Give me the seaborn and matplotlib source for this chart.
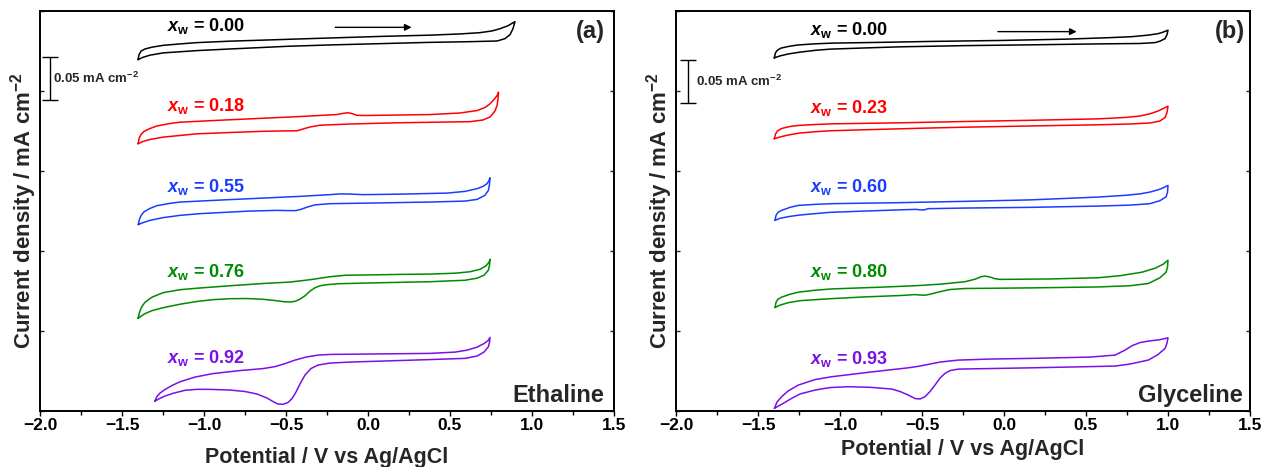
import numpy as np
import pandas as pd
import matplotlib
matplotlib.use("Agg")
import matplotlib.pyplot as plt
from matplotlib.ticker import MultipleLocator
import seaborn as sns

# ---------------- data: potential (V vs Ag/AgCl) and offset current density (mA cm^-2) ----------------
# Ethaline, panel (a)
ETH_000_FWD_V = [-1.402, -1.396, -1.384, -1.360, -1.317, -1.250, -1.146, -1.043, -0.841, -0.640, -0.415, -0.232,
                 0.073, 0.378, 0.561, 0.683, 0.756, 0.805, 0.854, 0.896]
ETH_000_FWD_J = [0.4093, 0.4151, 0.4192, 0.4217, 0.4238, 0.4259, 0.4276, 0.4291, 0.4308, 0.4320, 0.4334, 0.4345,
                 0.4363, 0.4378, 0.4392, 0.4407, 0.4427, 0.4453, 0.4488, 0.4535]
ETH_000_REV_V = [0.896, 0.884, 0.866, 0.835, 0.787, 0.622, 0.378, 0.073, -0.232, -0.494, -0.659, -0.841, -1.043,
                 -1.250, -1.329, -1.372, -1.402]
ETH_000_REV_J = [0.4535, 0.4453, 0.4384, 0.4337, 0.4310, 0.4302, 0.4294, 0.4279, 0.4264, 0.4248, 0.4233, 0.4217,
                 0.4198, 0.4171, 0.4145, 0.4120, 0.4093]

ETH_018_FWD_V = [-1.402, -1.396, -1.384, -1.366, -1.329, -1.287, -1.207, -1.146, -0.902, -0.640, -0.415, -0.191,
                 -0.152, -0.122, -0.098, -0.067, -0.018, 0.378, 0.561, 0.665, 0.713, 0.744, 0.768, 0.787, 0.796]
ETH_018_FWD_J = [0.3113, 0.3174, 0.3221, 0.3256, 0.3291, 0.3320, 0.3349, 0.3364, 0.3387, 0.3410, 0.3430, 0.3453,
                 0.3467, 0.3474, 0.3465, 0.3444, 0.3442, 0.3453, 0.3471, 0.3500, 0.3535, 0.3578, 0.3628, 0.3674, 0.3713]
ETH_018_REV_V = [0.796, 0.793, 0.787, 0.774, 0.744, 0.701, 0.622, 0.378, 0.177, -0.110, -0.293, -0.354, -0.396,
                 -0.433, -0.506, -0.640, -0.841, -1.043, -1.250, -1.329, -1.372, -1.402]
ETH_018_REV_J = [0.3713, 0.3640, 0.3558, 0.3494, 0.3424, 0.3390, 0.3370, 0.3363, 0.3357, 0.3343, 0.3329, 0.3308,
                 0.3285, 0.3264, 0.3263, 0.3258, 0.3244, 0.3229, 0.3190, 0.3163, 0.3140, 0.3113]

ETH_055_FWD_V = [-1.401, -1.393, -1.381, -1.366, -1.329, -1.287, -1.207, -1.146, -0.902, -0.640, -0.415, -0.232,
                 -0.171, -0.110, -0.030, 0.195, 0.482, 0.591, 0.665, 0.701, 0.726, 0.738, 0.744]
ETH_055_FWD_J = [0.2171, 0.2238, 0.2285, 0.2320, 0.2360, 0.2392, 0.2419, 0.2434, 0.2457, 0.2480, 0.2500, 0.2520,
                 0.2529, 0.2527, 0.2520, 0.2526, 0.2538, 0.2558, 0.2590, 0.2616, 0.2648, 0.2686, 0.2717]
ETH_055_REV_V = [0.744, 0.741, 0.734, 0.713, 0.665, 0.591, 0.378, 0.073, -0.232, -0.323, -0.366, -0.409, -0.439,
                 -0.506, -0.557, -0.720, -0.841, -1.024, -1.146, -1.250, -1.329, -1.372, -1.401]
ETH_055_REV_J = [0.2717, 0.2640, 0.2570, 0.2512, 0.2465, 0.2445, 0.2434, 0.2424, 0.2415, 0.2401, 0.2378, 0.2349,
                 0.2334, 0.2335, 0.2337, 0.2329, 0.2317, 0.2299, 0.2279, 0.2252, 0.2221, 0.2194, 0.2171]

ETH_076_FWD_V = [-1.402, -1.393, -1.381, -1.360, -1.317, -1.250, -1.146, -1.043, -0.841, -0.640, -0.476, -0.354,
                 -0.232, -0.140, -0.030, 0.195, 0.378, 0.530, 0.622, 0.683, 0.720, 0.738, 0.744]
ETH_076_FWD_J = [0.1081, 0.1151, 0.1209, 0.1267, 0.1326, 0.1378, 0.1413, 0.1430, 0.1459, 0.1485, 0.1502, 0.1529,
                 0.1564, 0.1581, 0.1584, 0.1591, 0.1595, 0.1605, 0.1622, 0.1651, 0.1692, 0.1733, 0.1767]
ETH_076_REV_V = [0.744, 0.741, 0.734, 0.707, 0.665, 0.591, 0.378, 0.073, -0.171, -0.244, -0.293, -0.323, -0.354,
                 -0.384, -0.415, -0.445, -0.476, -0.512, -0.567, -0.646, -0.740, -0.841, -0.945, -1.043, -1.146,
                 -1.250, -1.317, -1.360, -1.402]
ETH_076_REV_J = [0.1767, 0.1698, 0.1640, 0.1581, 0.1547, 0.1523, 0.1506, 0.1494, 0.1483, 0.1473, 0.1459, 0.1436,
                 0.1395, 0.1343, 0.1302, 0.1277, 0.1270, 0.1273, 0.1287, 0.1302, 0.1310, 0.1308, 0.1297, 0.1276,
                 0.1244, 0.1203, 0.1169, 0.1134, 0.1081]

ETH_092_FWD_V = [-1.299, -1.287, -1.268, -1.238, -1.195, -1.146, -1.055, -0.945, -0.780, -0.640, -0.567, -0.506,
                 -0.445, -0.378, -0.305, -0.232, 0.073, 0.378, 0.530, 0.604, 0.665, 0.707, 0.732, 0.744]
ETH_092_FWD_J = [0.0116, 0.0169, 0.0209, 0.0250, 0.0297, 0.0341, 0.0395, 0.0436, 0.0471, 0.0494, 0.0517, 0.0552,
                 0.0593, 0.0628, 0.0651, 0.0659, 0.0665, 0.0671, 0.0686, 0.0709, 0.0744, 0.0785, 0.0820, 0.0857]
ETH_092_REV_V = [0.744, 0.741, 0.734, 0.707, 0.665, 0.591, 0.378, 0.177, -0.110, -0.232, -0.305, -0.348, -0.384,
                 -0.415, -0.439, -0.463, -0.488, -0.518, -0.549, -0.579, -0.616, -0.677, -0.750, -0.841, -0.963,
                 -1.045, -1.116, -1.189, -1.238, -1.268, -1.299]
ETH_092_REV_J = [0.0857, 0.0802, 0.0748, 0.0686, 0.0640, 0.0613, 0.0599, 0.0587, 0.0570, 0.0558, 0.0535, 0.0494,
                 0.0419, 0.0314, 0.0221, 0.0145, 0.0099, 0.0078, 0.0081, 0.0110, 0.0151, 0.0198, 0.0227, 0.0244,
                 0.0252, 0.0252, 0.0241, 0.0206, 0.0174, 0.0148, 0.0116]

# Glyceline, panel (b)
GLY_000_FWD_V = [-1.401, -1.393, -1.381, -1.360, -1.305, -1.254, -1.152, -1.051, -0.756, -0.441, -0.024, 0.372,
                 0.646, 0.779, 0.878, 0.939, 0.970, 1.000]
GLY_000_FWD_J = [0.4113, 0.4174, 0.4203, 0.4227, 0.4250, 0.4264, 0.4277, 0.4285, 0.4294, 0.4305, 0.4316, 0.4331,
                 0.4349, 0.4360, 0.4378, 0.4395, 0.4413, 0.4436]
GLY_000_REV_V = [1.000, 0.994, 0.982, 0.951, 0.921, 0.829, 0.573, 0.159, -0.238, -0.634, -0.848, -1.061, -1.152,
                 -1.244, -1.315, -1.366, -1.401]
GLY_000_REV_J = [0.4436, 0.4384, 0.4337, 0.4308, 0.4291, 0.4281, 0.4276, 0.4265, 0.4256, 0.4242, 0.4229, 0.4215,
                 0.4201, 0.4180, 0.4159, 0.4136, 0.4113]

GLY_023_FWD_V = [-1.401, -1.393, -1.381, -1.356, -1.305, -1.254, -1.152, -1.051, -0.634, -0.238, 0.159, 0.575,
                 0.738, 0.829, 0.890, 0.939, 0.970, 1.000]
GLY_023_FWD_J = [0.3171, 0.3227, 0.3262, 0.3291, 0.3314, 0.3326, 0.3337, 0.3345, 0.3357, 0.3372, 0.3386, 0.3403,
                 0.3419, 0.3436, 0.3462, 0.3494, 0.3523, 0.3550]
GLY_023_REV_V = [1.000, 0.994, 0.982, 0.951, 0.890, 0.768, 0.573, 0.159, -0.238, -0.502, -0.848, -1.061, -1.152,
                 -1.244, -1.315, -1.366, -1.401]
GLY_023_REV_J = [0.3550, 0.3477, 0.3419, 0.3378, 0.3355, 0.3343, 0.3334, 0.3320, 0.3306, 0.3294, 0.3276, 0.3264,
                 0.3253, 0.3238, 0.3215, 0.3192, 0.3171]

GLY_060_FWD_V = [-1.396, -1.390, -1.378, -1.356, -1.305, -1.254, -1.152, -1.051, -0.634, -0.238, 0.159, 0.575,
                 0.738, 0.829, 0.890, 0.939, 0.970, 1.000]
GLY_060_FWD_J = [0.2221, 0.2279, 0.2314, 0.2337, 0.2372, 0.2395, 0.2407, 0.2415, 0.2427, 0.2442, 0.2459, 0.2492,
                 0.2512, 0.2529, 0.2550, 0.2576, 0.2599, 0.2628]
GLY_060_REV_V = [1.000, 0.997, 0.988, 0.951, 0.890, 0.768, 0.573, 0.159, -0.238, -0.421, -0.462, -0.488, -0.512,
                 -0.537, -0.634, -0.848, -1.061, -1.152, -1.244, -1.315, -1.366, -1.396]
GLY_060_REV_J = [0.2628, 0.2547, 0.2494, 0.2450, 0.2415, 0.2398, 0.2387, 0.2372, 0.2364, 0.2358, 0.2357, 0.2342,
                 0.2343, 0.2349, 0.2343, 0.2329, 0.2314, 0.2299, 0.2283, 0.2264, 0.2244, 0.2221]

GLY_080_FWD_V = [-1.396, -1.390, -1.378, -1.356, -1.305, -1.254, -1.152, -1.051, -0.756, -0.543, -0.390, -0.238,
                 -0.177, -0.140, -0.116, -0.085, -0.055, -0.024, 0.280, 0.573, 0.707, 0.840, 0.921, 0.970, 1.000]
GLY_080_FWD_J = [0.1206, 0.1267, 0.1302, 0.1326, 0.1360, 0.1384, 0.1407, 0.1422, 0.1442, 0.1459, 0.1477, 0.1506,
                 0.1535, 0.1564, 0.1572, 0.1560, 0.1541, 0.1533, 0.1538, 0.1552, 0.1576, 0.1616, 0.1663, 0.1709, 0.1756]
GLY_080_REV_V = [1.000, 0.997, 0.988, 0.951, 0.880, 0.768, 0.573, 0.159, -0.238, -0.329, -0.390, -0.451, -0.482,
                 -0.512, -0.543, -0.634, -0.848, -1.061, -1.244, -1.315, -1.366, -1.396]
GLY_080_REV_J = [0.1756, 0.1674, 0.1616, 0.1552, 0.1485, 0.1459, 0.1445, 0.1434, 0.1427, 0.1415, 0.1390, 0.1360,
                 0.1349, 0.1351, 0.1356, 0.1345, 0.1329, 0.1308, 0.1285, 0.1262, 0.1233, 0.1206]

GLY_093_FWD_V = [-1.400, -1.384, -1.356, -1.317, -1.254, -1.152, -1.051, -0.817, -0.584, -0.524, -0.482, -0.390,
                 -0.279, -0.085, 0.169, 0.524, 0.677, 0.738, 0.779, 0.829, 0.880, 0.951, 1.000]
GLY_093_FWD_J = [0.0031, 0.0105, 0.0166, 0.0233, 0.0302, 0.0366, 0.0399, 0.0453, 0.0503, 0.0520, 0.0535, 0.0570,
                 0.0593, 0.0605, 0.0613, 0.0628, 0.0651, 0.0709, 0.0759, 0.0797, 0.0814, 0.0831, 0.0852]
GLY_093_REV_V = [1.000, 0.994, 0.982, 0.939, 0.880, 0.768, 0.677, 0.169, -0.279, -0.329, -0.360, -0.390, -0.421,
                 -0.451, -0.482, -0.512, -0.543, -0.584, -0.634, -0.685, -0.817, -0.949, -1.061, -1.152, -1.244,
                 -1.294, -1.348, -1.400]
GLY_093_REV_J = [0.0852, 0.0791, 0.0729, 0.0657, 0.0593, 0.0547, 0.0523, 0.0503, 0.0488, 0.0471, 0.0438, 0.0384,
                 0.0302, 0.0227, 0.0166, 0.0140, 0.0145, 0.0186, 0.0227, 0.0256, 0.0276, 0.0283, 0.0273, 0.0244,
                 0.0198, 0.0148, 0.0087, 0.0031]

ETH_KEYS = ["000", "018", "055", "076", "092"]
GLY_KEYS = ["000", "023", "060", "080", "093"]
ETH_LABELS = ["0.00", "0.18", "0.55", "0.76", "0.92"]
GLY_LABELS = ["0.00", "0.23", "0.60", "0.80", "0.93"]
ETH_LABEL_J = [0.4422, 0.3492, 0.2550, 0.1562, 0.0555]
GLY_LABEL_J = [0.4384, 0.3473, 0.2550, 0.1562, 0.0547]
COLORS = ["#000000", "#ff0000", "#1a3cff", "#008a00", "#7a10e6"]

X_TICKS = [-2.0, -1.5, -1.0, -0.5, 0.0, 0.5, 1.0, 1.5]
SCALE_BAR = 0.05

# ---------------- style ----------------
sns.set_theme(style="white")
plt.rcParams["font.family"] = ["Liberation Sans", "DejaVu Sans"]
plt.rcParams["font.weight"] = "bold"
plt.rcParams["mathtext.fontset"] = "custom"
plt.rcParams["mathtext.it"] = "Liberation Sans:italic:bold"
plt.rcParams["mathtext.rm"] = "Liberation Sans:bold"
plt.rcParams["mathtext.bf"] = "Liberation Sans:bold"
plt.rcParams["mathtext.default"] = "regular"

W, H = 1263, 467
fig = plt.figure(figsize=(W / 100, H / 100), dpi=100)
ax_h = 400.3 / H
ax_b = 1 - 411 / H
ax1 = fig.add_axes([40 / W, ax_b, 574 / W, ax_h])
ax2 = fig.add_axes([676 / W, ax_b, 574 / W, ax_h])

YMAX = 401 / 860.0


def build(prefix, keys):
    g = globals()
    out = []
    for k in keys:
        v = g[f"{prefix}_{k}_FWD_V"] + g[f"{prefix}_{k}_REV_V"][1:]
        j = g[f"{prefix}_{k}_FWD_J"] + g[f"{prefix}_{k}_REV_J"][1:]
        out.append(pd.DataFrame({"V": v, "j": j}))
    return out


def style_axes(ax):
    ax.set_xlim(-2.0, 1.5)
    ax.set_ylim(0, YMAX)
    ax.xaxis.set_minor_locator(MultipleLocator(0.25))
    ax.set_yticks(np.linspace(0, YMAX, 6))
    ax.set_yticklabels([])
    ax.set_xticks(X_TICKS)
    ax.set_xticklabels([f"{t:.1f}".replace("-", "\u2212") for t in X_TICKS])
    ax.tick_params(axis="x", which="both", direction="out", length=3.5, width=1.0,
                   bottom=True, top=False, labelsize=12.5, pad=1.5, colors="black")
    ax.tick_params(axis="x", which="minor", length=3.0)
    ax.tick_params(axis="y", which="both", direction="in", length=3, width=1.0,
                   left=True, right=True)
    for sp in ax.spines.values():
        sp.set_visible(True)
        sp.set_color("black")
        sp.set_linewidth(1.4)
    for lbl in ax.get_xticklabels():
        lbl.set_fontweight("bold")
    ax.set_facecolor("white")


panels = [
    (ax1, build("ETH", ETH_KEYS), ETH_LABELS, ETH_LABEL_J, -1.226, "(a)", "Ethaline", (-0.20, 0.266, 0.4469),
     (-1.939, 0.3878), (-1.921, 0.3872), 10, 0.984, 0.983),
    (ax2, build("GLY", GLY_KEYS), GLY_LABELS, GLY_LABEL_J, -1.183, "(b)", "Glyceline", (-0.037, 0.443, 0.4419),
     (-1.927, 0.3837), (-1.878, 0.3837), 4, 0.991, 0.988),
]

for (ax, curves, labels, lab_j, lab_x, tag, name, arrow, bar, bar_txt, xpad, tag_x, name_x) in panels:
    for df, lab, lj, col in zip(curves, labels, lab_j, COLORS):
        sns.lineplot(data=df, x="V", y="j", sort=False, estimator=None, color=col,
                     linewidth=1.1, ax=ax)
        ax.text(lab_x, lj, r"$\mathit{x}_{\mathrm{w}}$ = " + lab, color=col,
                fontsize=13, fontweight="bold", ha="left", va="baseline")
    style_axes(ax)
    ax.set_xlabel("Potential / V vs Ag/AgCl", fontsize=15.5, fontweight="bold", labelpad=xpad)
    ax.set_ylabel("Current density / mA cm$^{-2}$", fontsize=16, fontweight="bold", labelpad=-3)
    ax.annotate("", xy=(arrow[1], arrow[2]), xytext=(arrow[0], arrow[2]),
                arrowprops=dict(arrowstyle="-|>", color="black", lw=1.0, mutation_scale=10,
                                shrinkA=0, shrinkB=0))
    ax.errorbar([bar[0]], [bar[1]], yerr=SCALE_BAR / 2, color="black", capsize=6,
                elinewidth=1.0, capthick=1.0, fmt="none")
    ax.text(bar_txt[0], bar_txt[1], "0.05 mA cm$^{-2}$", fontsize=9.5, fontweight="bold",
            ha="left", va="center")
    ax.text(tag_x, 0.977, tag, transform=ax.transAxes, fontsize=17, fontweight="bold",
            ha="right", va="top")
    ax.text(name_x, 0.022, name, transform=ax.transAxes, fontsize=17, fontweight="bold",
            ha="right", va="baseline")

fig.savefig("out.png", dpi=100, facecolor="white")
